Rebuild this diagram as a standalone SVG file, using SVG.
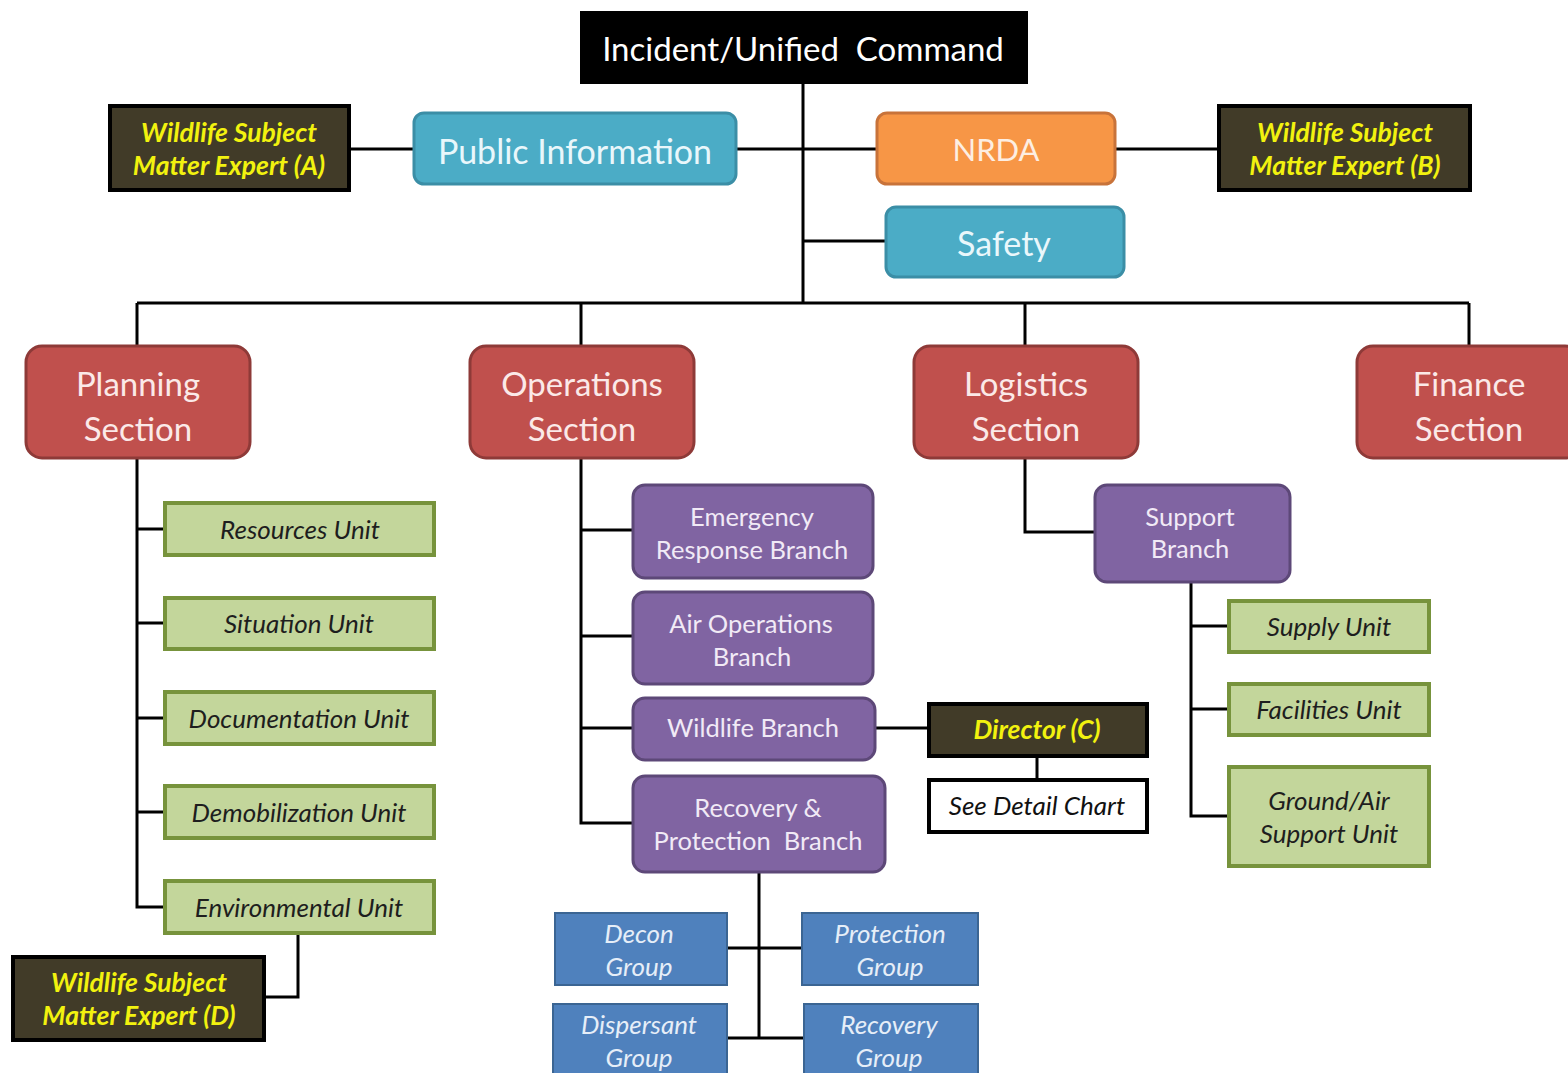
<svg xmlns="http://www.w3.org/2000/svg" width="1568" height="1073" viewBox="0 0 1568 1073">
<style>
text{font-family:Lato,"Open Sans","Liberation Sans",sans-serif;text-anchor:middle;dominant-baseline:central}
.cmd{fill:#000}
.cmdt{fill:#fff;font-size:33px}
.blue{fill:#4bacc6;stroke:#3b8ea6;stroke-width:3}
.bluet{fill:#e9f7fb;font-size:34px}
.orange{fill:#f79646;stroke:#c8733a;stroke-width:3}
.oranget{fill:#fdeee2;font-size:31px}
.sme{fill:#413b28;stroke:#000;stroke-width:4}
.smet{fill:#f2f20f;font-size:26.5px;font-weight:bold;font-style:italic}
.sec{fill:#c0504d;stroke:#8e3a38;stroke-width:3}
.sect{fill:#fbe9e8;font-size:33px}
.unit{fill:#c3d69b;stroke:#77933c;stroke-width:4}
.unitt{fill:#1e1e1e;font-size:26px;font-style:italic}
.pur{fill:#8064a2;stroke:#5d4878;stroke-width:3}
.purt{fill:#f1eaf6;font-size:25.5px}
.grp{fill:#4f81bd;stroke:#3b6593;stroke-width:2}
.grpt{fill:#e6eef8;font-size:26px;font-style:italic}
.wht{fill:#fff;stroke:#000;stroke-width:4}
.whtt{fill:#111;font-size:26px;font-style:italic}
.conn path{fill:none;stroke:#000;stroke-width:3}
</style>
<rect width="1568" height="1073" fill="#fff"/>
<g class="conn">
<path d="M803 84V303M137 303H1469M137 303V346M581 303V346M1025 303V346M1469 303V346"/>
<path d="M349 149H414M736 149H877M1115 149H1218M803 241H886"/>
<path d="M137 458V907H165M137 529H165M137 623H165M137 718H165M137 812H165"/>
<path d="M298 933V997H264"/>
<path d="M581 458V823H633M581 530H633M581 636H633M581 728H633"/>
<path d="M875 728H928M1037 756V779"/>
<path d="M759 872V1038M727 948H802M727 1038H804"/>
<path d="M1025 458V532H1095"/>
<path d="M1191 582V816H1229M1191 626H1229M1191 709H1229"/>
</g>
<g id="incident"><rect class="cmd" x="580" y="11" width="448" height="73"/><text class="cmdt" x="803" y="48">Incident/Unified&#160; Command</text></g>
<g id="sme-a"><rect class="sme" x="110" y="106" width="239" height="84"/><text class="smet" x="229" y="132">Wildlife Subject</text><text class="smet" x="229" y="165">Matter Expert (A)</text></g>
<g id="public-info"><rect class="blue" x="414" y="113" width="322" height="71" rx="10"/><text class="bluet" x="575" y="150">Public Information</text></g>
<g id="nrda"><rect class="orange" x="877" y="113" width="238" height="71" rx="10"/><text class="oranget" x="996" y="149">NRDA</text></g>
<g id="sme-b"><rect class="sme" x="1219" y="106" width="251" height="84"/><text class="smet" x="1345" y="132">Wildlife Subject</text><text class="smet" x="1345" y="165">Matter Expert (B)</text></g>
<g id="safety"><rect class="blue" x="886" y="207" width="238" height="70" rx="10"/><text class="bluet" x="1004" y="242">Safety</text></g>
<g id="planning"><rect class="sec" x="26" y="346" width="224" height="112" rx="16"/><text class="sect" x="138" y="383">Planning</text><text class="sect" x="138" y="428">Section</text></g>
<g id="operations"><rect class="sec" x="470" y="346" width="224" height="112" rx="16"/><text class="sect" x="582" y="383">Operations</text><text class="sect" x="582" y="428">Section</text></g>
<g id="logistics"><rect class="sec" x="914" y="346" width="224" height="112" rx="16"/><text class="sect" x="1026" y="383">Logistics</text><text class="sect" x="1026" y="428">Section</text></g>
<g id="finance"><rect class="sec" x="1357" y="346" width="224" height="112" rx="16"/><text class="sect" x="1469" y="383">Finance</text><text class="sect" x="1469" y="428">Section</text></g>
<g id="resources"><rect class="unit" x="165" y="503" width="269" height="52"/><text class="unitt" x="300" y="529">Resources Unit</text></g>
<g id="situation"><rect class="unit" x="165" y="598" width="269" height="51"/><text class="unitt" x="299" y="623">Situation Unit</text></g>
<g id="documentation"><rect class="unit" x="165" y="692" width="269" height="52"/><text class="unitt" x="299" y="718">Documentation Unit</text></g>
<g id="demobilization"><rect class="unit" x="165" y="786" width="269" height="52"/><text class="unitt" x="299" y="812">Demobilization Unit</text></g>
<g id="environmental"><rect class="unit" x="165" y="881" width="269" height="52"/><text class="unitt" x="299" y="907">Environmental Unit</text></g>
<g id="sme-d"><rect class="sme" x="13" y="957" width="251" height="83"/><text class="smet" x="139" y="982">Wildlife Subject</text><text class="smet" x="139" y="1015">Matter Expert (D)</text></g>
<g id="emergency"><rect class="pur" x="633" y="485" width="240" height="93" rx="12"/><text class="purt" x="752" y="516">Emergency</text><text class="purt" x="752" y="549">Response Branch</text></g>
<g id="air-ops"><rect class="pur" x="633" y="592" width="240" height="92" rx="12"/><text class="purt" x="751" y="623">Air Operations</text><text class="purt" x="752" y="656">Branch</text></g>
<g id="wildlife"><rect class="pur" x="633" y="698" width="242" height="62" rx="12"/><text class="purt" x="753" y="727">Wildlife Branch</text></g>
<g id="recovery-protection"><rect class="pur" x="633" y="776" width="252" height="96" rx="12"/><text class="purt" x="758" y="807">Recovery &amp;</text><text class="purt" x="758" y="840">Protection&#160; Branch</text></g>
<g id="director"><rect class="sme" x="929" y="704" width="218" height="52"/><text class="smet" x="1037" y="729">Director (C)</text></g>
<g id="detail"><rect class="wht" x="929" y="780" width="218" height="52"/><text class="whtt" x="1037" y="805">See Detail Chart</text></g>
<g id="decon"><rect class="grp" x="555" y="913" width="172" height="72"/><text class="grpt" x="639" y="933">Decon</text><text class="grpt" x="639" y="966">Group</text></g>
<g id="protection"><rect class="grp" x="802" y="913" width="176" height="72"/><text class="grpt" x="890" y="933">Protection</text><text class="grpt" x="890" y="966">Group</text></g>
<g id="dispersant"><rect class="grp" x="553" y="1004" width="174" height="75"/><text class="grpt" x="639" y="1024">Dispersant</text><text class="grpt" x="639" y="1057">Group</text></g>
<g id="recovery"><rect class="grp" x="804" y="1004" width="174" height="75"/><text class="grpt" x="889" y="1024">Recovery</text><text class="grpt" x="889" y="1057">Group</text></g>
<g id="support"><rect class="pur" x="1095" y="485" width="195" height="97" rx="12"/><text class="purt" x="1190" y="516">Support</text><text class="purt" x="1190" y="548">Branch</text></g>
<g id="supply"><rect class="unit" x="1229" y="601" width="200" height="51"/><text class="unitt" x="1329" y="626">Supply Unit</text></g>
<g id="facilities"><rect class="unit" x="1229" y="684" width="200" height="51"/><text class="unitt" x="1329" y="709">Facilities Unit</text></g>
<g id="ground-air"><rect class="unit" x="1229" y="767" width="200" height="99"/><text class="unitt" x="1329" y="800">Ground/Air</text><text class="unitt" x="1329" y="833">Support Unit</text></g>
</svg>
